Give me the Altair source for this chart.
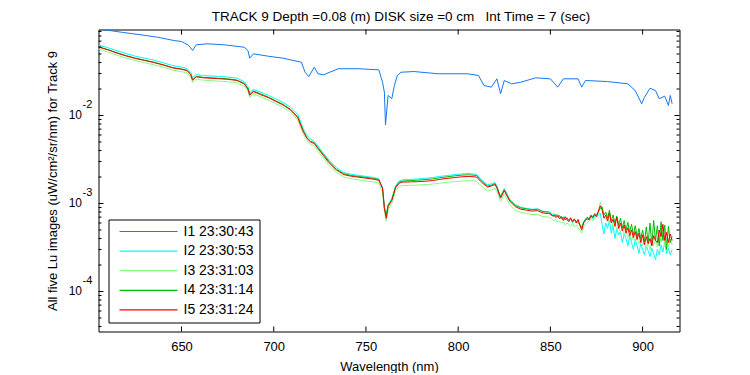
import altair as alt
import pandas as pd

FONT = "Liberation Sans"

TITLE = "TRACK 9 Depth =0.08 (m) DISK size =0 cm\u00a0\u00a0 Int Time = 7 (sec)"
X_TITLE = "Wavelength (nm)"
Y_TITLE = "All five Lu images (uW/cm\u00b2/sr/nm) for Track 9"

series_names = ["I1 23:30:43", "I2 23:30:53", "I3 23:31:03", "I4 23:31:14", "I5 23:31:24"]
series_colors = ["#1478f0", "#00ffff", "#80ff80", "#00bb00", "#ff0000"]

# I1 (upper blue trace)
wl_i1 = [605, 611, 618, 628, 637, 646, 650, 654, 656, 658,
         664, 673, 684, 686, 687, 689, 697, 705, 715, 717,
         719, 722, 724, 727, 735, 746, 757, 759, 760, 760.6,
         762, 764, 765.4, 767, 769, 776, 789, 805, 811, 814,
         818, 821, 823, 825, 829, 834, 842, 850, 854, 857,
         865, 867, 869, 881, 892, 896, 899.5, 901, 904, 907,
         909, 912, 914, 915, 916]
i1 = [0.0955, 0.0925, 0.0880, 0.0826, 0.0776, 0.0711, 0.0693, 0.0624, 0.0548, 0.0636,
      0.0653, 0.0636, 0.0597, 0.0548, 0.0448, 0.0502, 0.0472, 0.0448, 0.0403, 0.0310,
      0.0277, 0.0354, 0.0298, 0.0290, 0.0340, 0.0340, 0.0330, 0.0239, 0.0184, 0.0078,
      0.0169, 0.0155, 0.0219, 0.0285, 0.0310, 0.0316, 0.0298, 0.0298, 0.0285, 0.0219,
      0.0210, 0.0261, 0.0177, 0.0250, 0.0229, 0.0239, 0.0268, 0.0261, 0.0210, 0.0261,
      0.0261, 0.0210, 0.0250, 0.0243, 0.0229, 0.0192, 0.0136, 0.0161, 0.0204, 0.0192,
      0.0155, 0.0166, 0.0130, 0.0169, 0.0136]

# common wavelength grid for I2..I5
wl = [605, 610, 615, 620, 625, 630, 635, 640, 645, 650,
      653, 655, 656, 658, 662, 666, 670, 675, 680,
      684, 686, 687, 689, 693, 697, 701, 705, 709, 713,
      716, 718, 720, 722, 724, 727, 730, 734, 738, 742,
      746, 750, 754, 757, 759, 760, 761, 762, 764, 766,
      768, 770, 774, 778, 782, 786, 790, 794, 798, 802,
      806, 810, 812, 814, 816, 818, 820, 821, 823, 825,
      828, 831, 834, 837, 840, 843, 846, 849,
      850, 851, 852, 853, 854, 855, 856, 857, 858, 859,
      860, 861, 862, 863, 864, 865, 866, 867, 868, 869,
      870, 871, 872, 873, 874, 875, 876, 877, 878, 879,
      880, 881, 882, 883, 884, 885, 886, 887, 888, 889,
      890, 891, 892, 893, 894, 895, 896, 897, 898, 899,
      900, 901, 902, 903, 904, 905, 906, 907, 908, 909,
      910, 911, 912, 913, 914, 915, 916]

i2 = [0.0630, 0.0590, 0.0545, 0.0505, 0.0472, 0.0448, 0.0425, 0.0398, 0.0370, 0.0355,
      0.0343, 0.0308, 0.0270, 0.0292, 0.0284, 0.0281, 0.0278, 0.0274, 0.0266,
      0.0243, 0.0213, 0.0183, 0.0198, 0.0184, 0.0170, 0.0155, 0.0141, 0.0125, 0.0103,
      0.0071, 0.0059, 0.0054, 0.0051, 0.0045, 0.0037, 0.0031, 0.00255, 0.00225, 0.00215,
      0.00209, 0.00203, 0.00198, 0.00191, 0.00152, 0.00092, 0.00074, 0.00097, 0.00113, 0.00158,
      0.00180, 0.00186, 0.00188, 0.00190, 0.00193, 0.00197, 0.00203, 0.00208, 0.00213, 0.00217,
      0.00219, 0.00214, 0.00192, 0.00176, 0.00163, 0.00168, 0.00173, 0.00158, 0.00121, 0.00147,
      0.00111, 0.00097, 0.00091, 0.00088, 0.00086, 0.00087, 0.00081, 0.00080,
      0.00079, 0.00075, 0.00077, 0.00072, 0.00075, 0.00070, 0.00069, 0.00067, 0.00072, 0.00064,
      0.00066, 0.00070, 0.00061, 0.00066, 0.00063, 0.00060, 0.00057, 0.00053, 0.00062, 0.00066,
      0.00065, 0.00069, 0.00070, 0.00066, 0.00073, 0.00070, 0.00074, 0.00078, 0.00058, 0.00045,
      0.00060, 0.00052, 0.00064, 0.00046, 0.00055, 0.00040, 0.00052, 0.00044, 0.00048, 0.00036,
      0.00045, 0.00040, 0.00033, 0.00042, 0.00036, 0.00030, 0.00039, 0.00033, 0.00027, 0.00035,
      0.00030, 0.00026, 0.00033, 0.00029, 0.00025, 0.00031, 0.00027, 0.00023, 0.00030, 0.00026,
      0.00034, 0.00028, 0.00037, 0.00027, 0.00031, 0.00026, 0.00030]

i3 = [0.0570, 0.0527, 0.0485, 0.0449, 0.0421, 0.0398, 0.0377, 0.0354, 0.0329, 0.0315,
      0.0305, 0.0273, 0.0238, 0.0259, 0.0252, 0.0249, 0.0246, 0.0242, 0.0235,
      0.0215, 0.0188, 0.0161, 0.0176, 0.0163, 0.0150, 0.0137, 0.0124, 0.0110, 0.0089,
      0.0062, 0.0052, 0.0047, 0.0045, 0.0039, 0.0033, 0.0027, 0.00225, 0.00200, 0.00191,
      0.00186, 0.00181, 0.00176, 0.00171, 0.00136, 0.00082, 0.00063, 0.00085, 0.00100, 0.00138,
      0.00156, 0.00160, 0.00161, 0.00162, 0.00164, 0.00166, 0.00170, 0.00174, 0.00177, 0.00180,
      0.00182, 0.00179, 0.00162, 0.00149, 0.00139, 0.00143, 0.00149, 0.00137, 0.00106, 0.00128,
      0.00097, 0.00084, 0.00079, 0.00077, 0.00075, 0.00075, 0.00071, 0.00070,
      0.00069, 0.00066, 0.00064, 0.00066, 0.00061, 0.00063, 0.00060, 0.00062, 0.00057, 0.00060,
      0.00058, 0.00055, 0.00059, 0.00054, 0.00057, 0.00053, 0.00050, 0.00046, 0.00054, 0.00058,
      0.00061, 0.00063, 0.00066, 0.00064, 0.00069, 0.00072, 0.00078, 0.00103, 0.00090, 0.00072,
      0.00066, 0.00070, 0.00060, 0.00065, 0.00054, 0.00059, 0.00050, 0.00056, 0.00047, 0.00052,
      0.00044, 0.00049, 0.00041, 0.00046, 0.00038, 0.00044, 0.00036, 0.00042, 0.00035, 0.00039,
      0.00033, 0.00038, 0.00031, 0.00036, 0.00030, 0.00037, 0.00033, 0.00040, 0.00032, 0.00044,
      0.00036, 0.00046, 0.00033, 0.00041, 0.00032, 0.00039, 0.00034]

i4 = [0.0605, 0.0562, 0.0516, 0.0479, 0.0449, 0.0426, 0.0403, 0.0378, 0.0351, 0.0338,
      0.0327, 0.0293, 0.0255, 0.0278, 0.0271, 0.0268, 0.0265, 0.0261, 0.0253,
      0.0232, 0.0203, 0.0173, 0.0190, 0.0176, 0.0162, 0.0147, 0.0134, 0.0118, 0.0097,
      0.0067, 0.0056, 0.0051, 0.0049, 0.0043, 0.0036, 0.0030, 0.00244, 0.00218, 0.00208,
      0.00203, 0.00198, 0.00193, 0.00187, 0.00148, 0.00088, 0.00072, 0.00095, 0.00110, 0.00153,
      0.00175, 0.00180, 0.00182, 0.00184, 0.00187, 0.00190, 0.00196, 0.00201, 0.00206, 0.00210,
      0.00212, 0.00208, 0.00186, 0.00170, 0.00158, 0.00162, 0.00168, 0.00154, 0.00118, 0.00144,
      0.00109, 0.00095, 0.00089, 0.00087, 0.00085, 0.00086, 0.00081, 0.00080,
      0.00077, 0.00074, 0.00071, 0.00075, 0.00070, 0.00073, 0.00067, 0.00070, 0.00065, 0.00069,
      0.00064, 0.00067, 0.00061, 0.00066, 0.00062, 0.00064, 0.00058, 0.00053, 0.00061, 0.00066,
      0.00070, 0.00067, 0.00074, 0.00071, 0.00077, 0.00074, 0.00080, 0.00088, 0.00092, 0.00074,
      0.00080, 0.00068, 0.00084, 0.00064, 0.00074, 0.00060, 0.00072, 0.00057, 0.00068, 0.00053,
      0.00064, 0.00050, 0.00061, 0.00047, 0.00058, 0.00044, 0.00056, 0.00042, 0.00052, 0.00040,
      0.00050, 0.00037, 0.00054, 0.00036, 0.00060, 0.00034, 0.00064, 0.00038, 0.00056, 0.00033,
      0.00062, 0.00038, 0.00057, 0.00030, 0.00055, 0.00036, 0.00042]

i5 = [0.0600, 0.0558, 0.0512, 0.0475, 0.0445, 0.0422, 0.0400, 0.0375, 0.0348, 0.0335,
      0.0324, 0.0290, 0.0252, 0.0275, 0.0268, 0.0265, 0.0262, 0.0258, 0.0250,
      0.0229, 0.0200, 0.0170, 0.0187, 0.0172, 0.0160, 0.0145, 0.0132, 0.0116, 0.0095,
      0.0066, 0.0055, 0.0050, 0.0048, 0.0042, 0.0035, 0.0029, 0.0024, 0.00213, 0.00204,
      0.00199, 0.00194, 0.00189, 0.00183, 0.00150, 0.00090, 0.00068, 0.00092, 0.00108, 0.00150,
      0.00170, 0.00175, 0.00176, 0.00177, 0.00179, 0.00182, 0.00188, 0.00193, 0.00197, 0.00201,
      0.00203, 0.00200, 0.00180, 0.00165, 0.00154, 0.00158, 0.00164, 0.00150, 0.00115, 0.00140,
      0.00106, 0.00092, 0.00086, 0.00084, 0.00082, 0.00083, 0.00078, 0.00077,
      0.00076, 0.00072, 0.00074, 0.00069, 0.00073, 0.00067, 0.00071, 0.00064, 0.00070, 0.00066,
      0.00062, 0.00068, 0.00063, 0.00067, 0.00060, 0.00066, 0.00056, 0.00050, 0.00060, 0.00064,
      0.00068, 0.00065, 0.00072, 0.00069, 0.00075, 0.00071, 0.00082, 0.00094, 0.00085, 0.00068,
      0.00074, 0.00063, 0.00078, 0.00060, 0.00066, 0.00055, 0.00070, 0.00052, 0.00060, 0.00049,
      0.00057, 0.00046, 0.00053, 0.00043, 0.00050, 0.00041, 0.00048, 0.00039, 0.00046, 0.00036,
      0.00044, 0.00034, 0.00042, 0.00035, 0.00040, 0.00033, 0.00043, 0.00038, 0.00036, 0.00050,
      0.00042, 0.00058, 0.00038, 0.00047, 0.00036, 0.00045, 0.00038]

x_domain = [605, 920]
y_domain = [3.51e-5, 0.0949]
x_ticks = [650, 700, 750, 800, 850, 900]
y_major = [1e-4, 1e-3, 1e-2]
y_exp = ["-4", "-3", "-2"]
y_minor = [4e-5, 5e-5, 6e-5, 7e-5, 8e-5, 9e-5,
           2e-4, 3e-4, 4e-4, 5e-4, 6e-4, 7e-4, 8e-4, 9e-4,
           2e-3, 3e-3, 4e-3, 5e-3, 6e-3, 7e-3, 8e-3, 9e-3,
           2e-2, 3e-2, 4e-2, 5e-2, 6e-2, 7e-2, 8e-2, 9e-2]

W, H = 581, 302

rows = []
for w, v in zip(wl_i1, i1):
    rows.append({"wl": w, "val": v, "series": series_names[0]})
for name, vals in zip(series_names[1:], [i2, i3, i4, i5]):
    for w, v in zip(wl, vals):
        rows.append({"wl": w, "val": v, "series": name})
df = pd.DataFrame(rows)

xs = alt.Scale(domain=x_domain, nice=False, zero=False)
ys = alt.Scale(type="log", domain=y_domain, nice=False)

x_axis = alt.Axis(
    values=x_ticks, ticks=False, domain=False, grid=False,
    labelFontSize=13, labelPadding=9, labelColor="black", labelFont=FONT,
    labelFlush=False, labelOverlap=False, format="d",
    title=X_TITLE, titleFontSize=13, titleFontWeight="normal", titleColor="black",
    titleFont=FONT, titlePadding=7)
y_axis = alt.Axis(
    labels=False, ticks=False, domain=False, grid=False,
    title=Y_TITLE, titleFontSize=13, titleFontWeight="normal", titleColor="black",
    titleFont=FONT, titlePadding=39)


def X(field):
    return alt.X(field, scale=xs, axis=x_axis, title=X_TITLE)


def Y(field):
    return alt.Y(field, scale=ys, axis=y_axis, title=Y_TITLE)


lines = alt.Chart(df).mark_line(strokeWidth=1, clip=True).encode(
    x=X("wl:Q"),
    y=Y("val:Q"),
    color=alt.Color("series:N", scale=alt.Scale(domain=series_names, range=series_colors),
                    legend=alt.Legend(
                        title=None, orient="none", legendX=10, legendY=190,
                        direction="vertical", symbolType="M-1,0H57", symbolSize=4,
                        symbolStrokeWidth=1.2, symbolOffset=0, labelOffset=56,
                        padding=5, rowPadding=5.6, fillColor="white", strokeColor="black",
                        labelFontSize=14, labelFont=FONT, labelColor="black", labelLimit=0)),
)


def hticks(vals, x0, x1):
    return alt.Chart(pd.DataFrame({"v": vals})).mark_rule(color="black", strokeWidth=1).encode(
        y=Y("v:Q"), x=alt.value(x0), x2=alt.value(x1))


def vticks(vals, y0, y1):
    return alt.Chart(pd.DataFrame({"v": vals})).mark_rule(color="black", strokeWidth=1).encode(
        x=X("v:Q"), y=alt.value(y0), y2=alt.value(y1))


ylab = pd.DataFrame({"v": y_major, "e": y_exp})
base10 = alt.Chart(ylab).mark_text(align="right", baseline="middle", fontSize=12,
                                   font=FONT, color="black").encode(
    y=Y("v:Q"), x=alt.value(-16.5), text=alt.value("10"))
expo = alt.Chart(ylab).mark_text(align="left", baseline="middle", fontSize=11,
                                 font=FONT, color="black", dy=-10).encode(
    y=Y("v:Q"), x=alt.value(-16), text="e:N")

title_mark = alt.Chart(pd.DataFrame({"t": [TITLE]})).mark_text(
    align="center", baseline="alphabetic", fontSize=13.5, font=FONT, color="black").encode(
    x=alt.value(W / 2 + 12), y=alt.value(-9), text="t:N")

chart = alt.layer(
    lines,
    hticks(y_major, 0, 5), hticks(y_minor, 0, 3),
    hticks(y_major, W - 5, W), hticks(y_minor, W - 3, W),
    vticks(x_ticks, H - 5, H), vticks(x_ticks, 0, 5),
    base10, expo, title_mark,
).properties(
    width=W, height=H,
    autosize=alt.AutoSizeParams(type="none"),
    padding={"left": 90.5, "top": 21.5, "right": 62.5, "bottom": 41.5},
    background="white",
).configure_view(stroke="black", strokeWidth=1)

chart.save("out.html", embed_options={"renderer": "svg", "actions": False})
